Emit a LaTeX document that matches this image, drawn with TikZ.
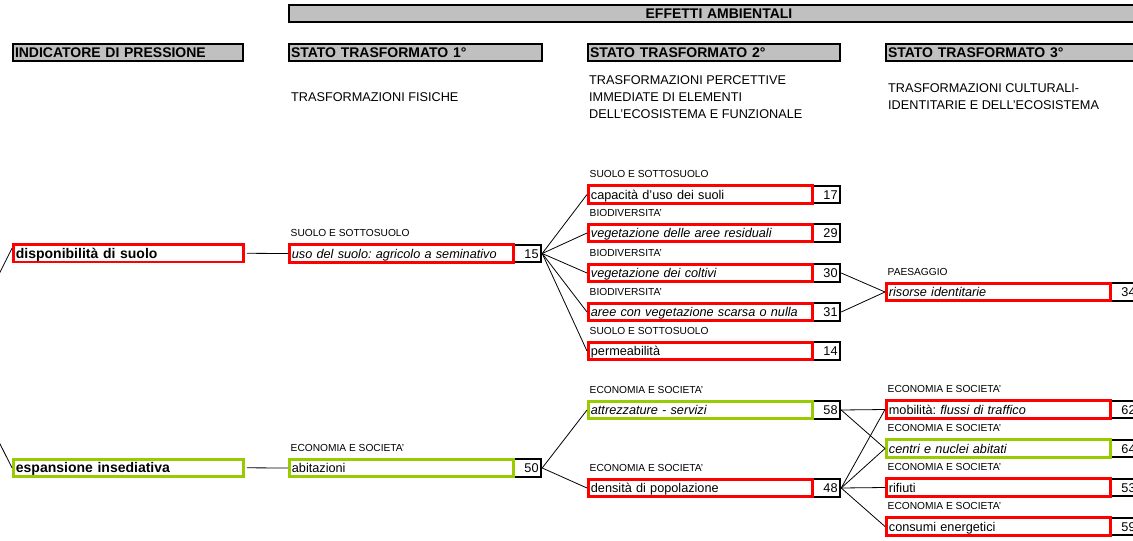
\documentclass[tikz,border=0pt]{standalone}
\usepackage{fontspec}
\setmainfont{Liberation Sans}
\frenchspacing
\definecolor{bred}{HTML}{FF0000}
\definecolor{bgreen}{HTML}{99CC00}
\definecolor{hgray}{HTML}{C0C0C0}
\newcommand{\fmain}{\fontsize{12.7}{15}\selectfont}
\newcommand{\flab}{\fontsize{10.2}{12}\selectfont}
\newcommand{\fhead}{\fontsize{14}{16}\selectfont\bfseries}
\newcommand{\myentry}[7]{%
  \node[nb] (#1n) at (#2+224,#3) {#7};
  \node[tb=#4] (#1) at (#2,#3) {#6};
  \node[lab] (#1l) at ([xshift=2.5pt,yshift=6.5pt]#1.north west) {#5};
}
\begin{document}
\begin{tikzpicture}[x=1pt,y=-1pt,
  hdr/.style={draw=black, fill=hgray, line width=2pt, anchor=west, inner xsep=2pt, inner ysep=0pt,
    minimum height=17.5pt, align=left, font=\fhead, text height=10pt, text depth=0pt},
  tb/.style={draw=#1, line width=2.8pt, anchor=west, inner xsep=2.5pt, inner ysep=0pt,
    text width=219pt, minimum height=17.3pt, align=left, font=\fmain, text height=10pt, text depth=1pt},
  nb/.style={draw=black, line width=2.2pt, anchor=west, inner xsep=2.5pt, inner ysep=0pt,
    text width=23pt, minimum height=17.5pt, align=right, font=\fmain, text height=10pt, text depth=1pt},
  lab/.style={anchor=base west, inner sep=0pt, font=\flab},
  sub/.style={anchor=base west, inner sep=0pt, font=\fmain},
  conn/.style={draw=black, line width=0.8pt}
]
\useasboundingbox (0,0) rectangle (1133,541);

% header row
\node[hdr, text width=856pt, align=center] (heff) at (288,13.7) {EFFETTI AMBIENTALI};
\node[hdr, text width=226pt] (hind) at (12,52.7) {INDICATORE DI PRESSIONE};
\node[hdr, text width=249pt] (hst1) at (288,52.7) {STATO TRASFORMATO 1°};
\node[hdr, text width=248pt] (hst2) at (587,52.7) {STATO TRASFORMATO 2°};
\node[hdr, text width=249pt] (hst3) at (885,52.7) {STATO TRASFORMATO 3°};

% subtitles
\node[sub] (s1) at (291,101.5) {TRASFORMAZIONI FISICHE};
\node[sub] (s2a) at (589,84.5) {TRASFORMAZIONI PERCETTIVE};
\node[sub] (s2b) at (589,101.5) {IMMEDIATE DI ELEMENTI};
\node[sub] (s2c) at (589,118.5) {DELL'ECOSISTEMA E FUNZIONALE};
\node[sub] (s3a) at (888,92.5) {TRASFORMAZIONI CULTURALI-};
\node[sub] (s3b) at (888,109.5) {IDENTITARIE E DELL'ECOSISTEMA};

% pressure indicators
\node[tb=bred, text width=225pt, font=\fhead, text height=11pt, text depth=1.5pt] (disp) at (12,253.3) {disponibilità di suolo};
\node[tb=bgreen, text width=225pt, font=\fhead, text height=11pt, text depth=1.5pt] (esp) at (12,467.8) {espansione insediativa};

% column 1
\myentry{uso}{288}{253.5}{bred}{SUOLO E SOTTOSUOLO}{\textit{uso del suolo: agricolo a seminativo}}{15}
\myentry{abit}{288}{468}{bgreen}{ECONOMIA E SOCIETA'}{abitazioni}{50}

% column 2
\myentry{caa}{587}{194.5}{bred}{SUOLO E SOTTOSUOLO}{capacità d'uso dei suoli}{17}
\myentry{cab}{587}{233}{bred}{BIODIVERSITA'}{\textit{vegetazione delle aree residuali}}{29}
\myentry{cac}{587}{273}{bred}{BIODIVERSITA'}{\textit{vegetazione dei coltivi}}{30}
\myentry{cad}{587}{312}{bred}{BIODIVERSITA'}{\textit{aree con vegetazione scarsa o nulla}}{31}
\myentry{cae}{587}{351}{bred}{SUOLO E SOTTOSUOLO}{permeabilità}{14}
\myentry{caf}{587}{410}{bgreen}{ECONOMIA E SOCIETA'}{\textit{attrezzature - servizi}}{58}
\myentry{cag}{587}{488}{bred}{ECONOMIA E SOCIETA'}{densità di popolazione}{48}

% column 3
\myentry{cba}{885}{292}{bred}{PAESAGGIO}{\textit{risorse identitarie}}{34}
\myentry{cbb}{885}{409.5}{bred}{ECONOMIA E SOCIETA'}{mobilità: \textit{flussi di traffico}}{62}
\myentry{cbc}{885}{448.5}{bgreen}{ECONOMIA E SOCIETA'}{\textit{centri e nuclei abitati}}{64}
\myentry{cbd}{885}{487.5}{bred}{ECONOMIA E SOCIETA'}{rifiuti}{53}
\myentry{cbe}{885}{526.5}{bred}{ECONOMIA E SOCIETA'}{consumi energetici}{59}

% connectors
\coordinate (lt) at (-10,292);
\coordinate (lb) at (-10,424);
\draw[conn] (lt) -- ([yshift=5pt]disp.west);
\draw[conn] (lb) -- (esp.west);
\draw[conn] ([xshift=2pt]disp.east) -- (uso.west);
\draw[conn] ([xshift=2pt]esp.east) -- (abit.west);
\foreach \t in {caa,cab,cac,cad,cae} \draw[conn] (uson.east) -- (\t.west);
\draw[conn] (cacn.east) -- (cba.west);
\draw[conn] (cadn.east) -- (cba.west);
\draw[conn] (abitn.east) -- (caf.west);
\draw[conn] (abitn.east) -- (cag.west);
\draw[conn] (cafn.east) -- (cbb.west);
\draw[conn] (cafn.east) -- (cbc.west);
\foreach \t in {cbb,cbc,cbd,cbe} \draw[conn] (cagn.east) -- (\t.west);
\end{tikzpicture}
\end{document}
